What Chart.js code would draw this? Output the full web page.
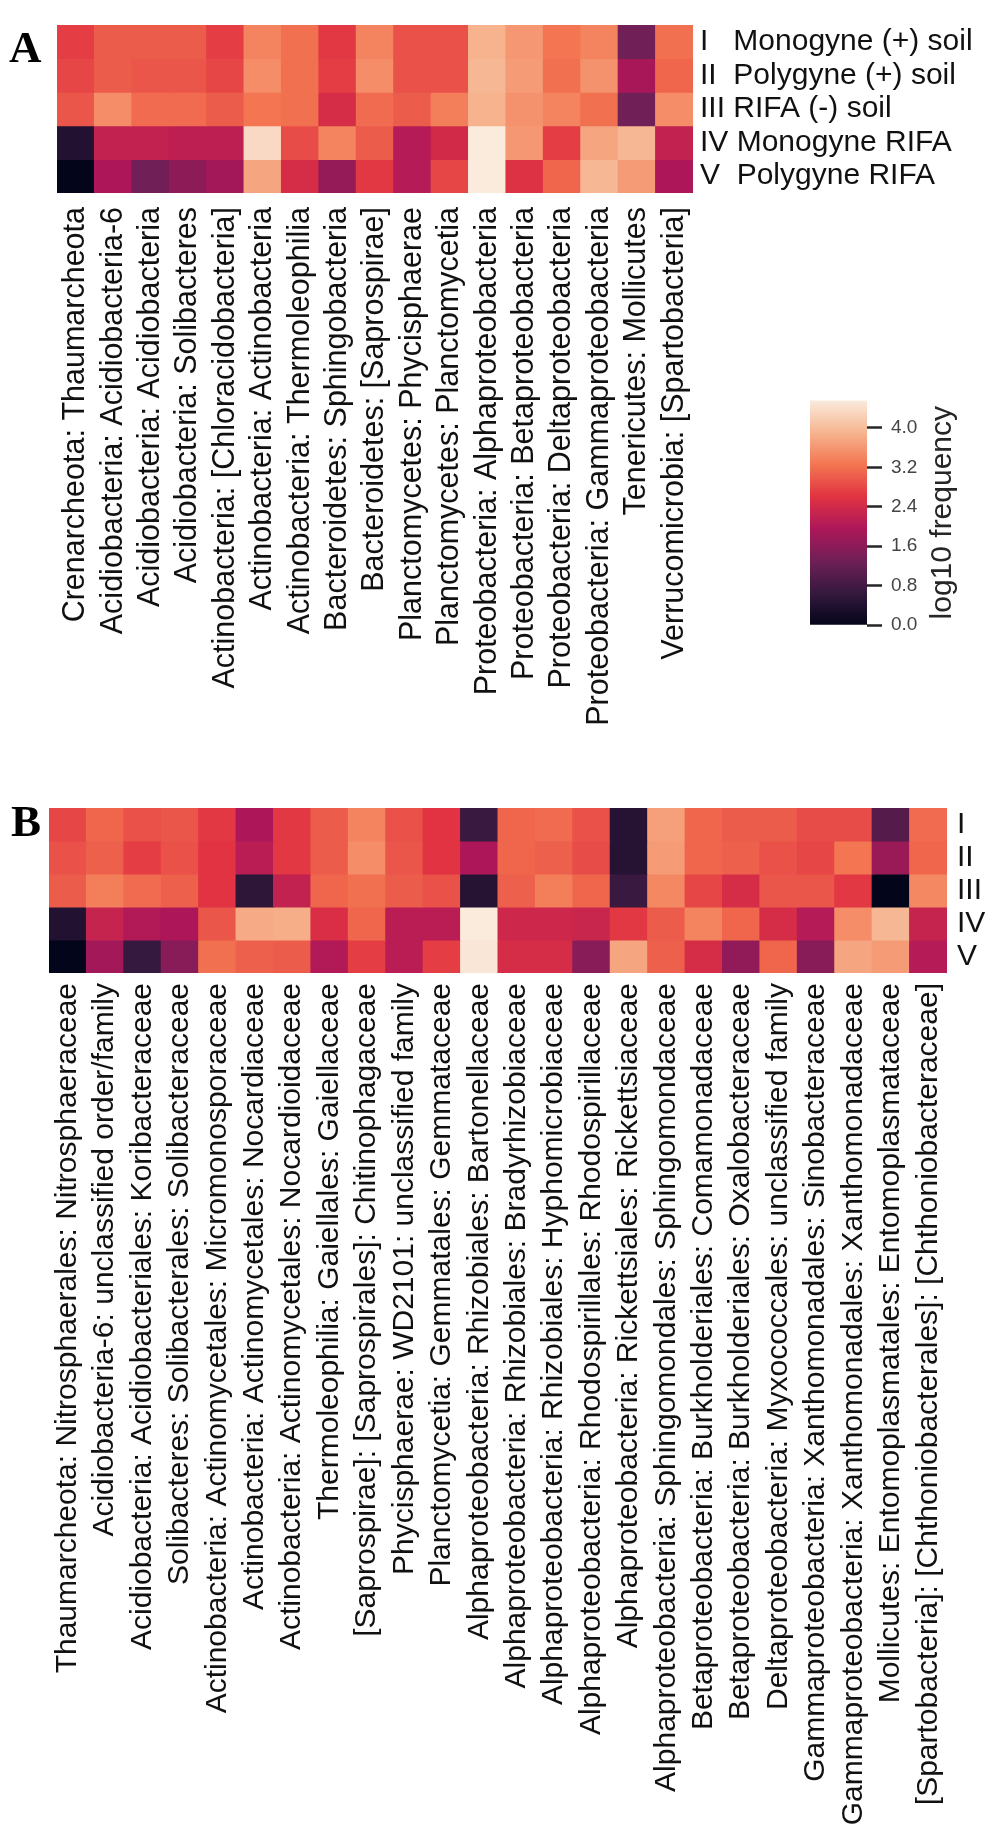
<!DOCTYPE html>
<html>
<head>
<meta charset="utf-8">
<script src="https://cdn.jsdelivr.net/npm/chart.js@4.4.0/dist/chart.umd.min.js"></script>
<style>
  body { margin: 0; background: #fff; }
  #wrap { position: relative; width: 985px; height: 1838px; background: #fff; }
  #wrap canvas { position: absolute; }
</style>
</head>
<body>
<div id="wrap">
  <canvas id="heatA" width="985" height="760" style="left:0;top:0"></canvas>
  <canvas id="colorBar" width="195" height="270" style="left:790px;top:380px"></canvas>
  <canvas id="heatB" width="985" height="1058" style="left:0;top:780px"></canvas>
</div>
<script>
// ---- panel A: class level ----
const groupsA = ['I   Monogyne (+) soil', 'II  Polygyne (+) soil', 'III RIFA (-) soil', 'IV Monogyne RIFA', 'V  Polygyne RIFA'];
const classesA = [
  'Crenarcheota: Thaumarcheota', 'Acidiobacteria: Acidiobacteria-6', 'Acidiobacteria: Acidiobacteria',
  'Acidiobacteria: Solibacteres', 'Actinobacteria: [Chloracidobacteria]', 'Actinobacteria: Actinobacteria',
  'Actinobacteria: Thermoleophilia', 'Bacteroidetes: Sphingobacteria', 'Bacteroidetes: [Saprospirae]',
  'Planctomycetes: Phycisphaerae', 'Planctomycetes: Planctomycetia', 'Proteobacteria: Alphaproteobacteria',
  'Proteobacteria: Betaproteobacteria', 'Proteobacteria: Deltaproteobacteria', 'Proteobacteria: Gammaproteobacteria',
  'Tenericutes: Mollicutes', 'Verrucomicrobia: [Spartobacteria]'
];
const freqA_I   = [2.7, 3.0, 3.0, 3.0, 2.7, 3.4, 3.2, 2.65, 3.4, 2.9, 2.9, 3.9, 3.6, 3.25, 3.4, 1.3, 3.2];
const freqA_II  = [2.8, 3.0, 2.95, 2.95, 2.8, 3.5, 3.2, 2.7, 3.5, 2.9, 2.9, 3.95, 3.65, 3.2, 3.55, 1.9, 3.1];
const freqA_III = [2.95, 3.5, 3.15, 3.15, 3.0, 3.25, 3.2, 2.45, 3.15, 3.0, 3.35, 3.9, 3.55, 3.4, 3.2, 1.3, 3.5];
const freqA_IV  = [0.4, 2.2, 2.2, 2.15, 2.15, 4.35, 2.85, 3.4, 3.0, 2.05, 2.4, 4.56, 3.6, 2.7, 3.75, 3.95, 2.2];
const freqA_V   = [0.0, 1.95, 1.3, 1.6, 1.85, 3.75, 2.45, 1.7, 2.65, 2.05, 2.8, 4.56, 2.55, 3.1, 3.95, 3.65, 1.95];

// ---- panel B: family level ----
const groupsB = ['I', 'II', 'III', 'IV', 'V'];
const familiesB = [
  'Thaumarcheota: Nitrosphaerales: Nitrosphaeraceae',
  'Acidiobacteria-6: unclassified order/family',
  'Acidiobacteria: Acidiobacteriales: Koribacteraceae',
  'Solibacteres: Solibacterales: Solibacteraceae',
  'Actinobacteria: Actinomycetales: Micromonosporaceae',
  'Actinobacteria: Actinomycetales: Nocardiaceae',
  'Actinobacteria: Actinomycetales: Nocardioidaceae',
  'Thermoleophilia: Gaiellales: Gaiellaceae',
  '[Saprospirae]: [Saprospirales]: Chitinophagaceae',
  'Phycisphaerae: WD2101: unclassified family',
  'Planctomycetia: Gemmatales: Gemmataceae',
  'Alphaproteobacteria: Rhizobiales: Bartonellaceae',
  'Alphaproteobacteria: Rhizobiales: Bradyrhizobiaceae',
  'Alphaproteobacteria: Rhizobiales: Hyphomicrobiaceae',
  'Alphaproteobacteria: Rhodospirillales: Rhodospirillaceae',
  'Alphaproteobacteria: Rickettsiales: Rickettsiaceae',
  'Alphaproteobacteria: Sphingomondales: Sphingomondaceae',
  'Betaproteobacteria: Burkholderiales: Comamonadaceae',
  'Betaproteobacteria: Burkholderiales: Oxalobacteraceae',
  'Deltaproteobacteria: Myxococcales: unclassified family',
  'Gammaproteobacteria: Xanthomonadales: Sinobacteraceae',
  'Gammaproteobacteria: Xanthomonadales: Xanthomonadaceae',
  'Mollicutes: Entomoplasmatales: Entomoplasmataceae',
  '[Spartobacteria]: [Chthoniobacterales]: [Chthoniobacteraceae]'
];
const freqB_I   = [2.8, 3.1, 2.9, 2.95, 2.65, 1.95, 2.65, 3.0, 3.4, 2.9, 2.6, 0.7, 3.1, 3.15, 2.9, 0.45, 3.7, 3.1, 3.0, 3.0, 2.85, 2.85, 1.0, 3.15];
const freqB_II  = [2.9, 3.05, 2.7, 2.9, 2.6, 2.1, 2.65, 3.0, 3.5, 2.95, 2.6, 1.95, 3.1, 3.05, 2.85, 0.45, 3.65, 3.1, 3.05, 2.9, 2.8, 3.25, 1.75, 3.1];
const freqB_III = [3.0, 3.35, 3.15, 3.05, 2.6, 0.55, 2.2, 3.1, 3.2, 3.0, 2.9, 0.45, 3.05, 3.35, 3.1, 0.7, 3.45, 2.8, 2.45, 2.95, 2.95, 2.65, 0.0, 3.45];
const freqB_IV  = [0.4, 2.25, 2.0, 1.95, 2.95, 3.8, 3.85, 2.5, 3.1, 2.1, 2.1, 4.56, 2.35, 2.35, 2.3, 2.65, 3.0, 3.4, 3.1, 2.45, 2.05, 3.5, 3.95, 2.25];
const freqB_V   = [0.0, 1.85, 0.65, 1.55, 3.2, 3.05, 3.0, 2.0, 2.7, 2.1, 2.7, 4.5, 2.45, 2.45, 1.55, 3.75, 3.05, 2.45, 1.65, 3.1, 1.55, 3.75, 3.65, 2.05];

// ---- colour scale ----
const vmin = 0;
const vmax = 4.56;
const colorTicks = [0.0, 0.8, 1.6, 2.4, 3.2, 4.0];
const rocketStops = ['#03051a', '#35193e', '#701f57', '#ad1759', '#e13342', '#f37651', '#f6b48f', '#faebdd'];

function hexRgb(h) {
  return [parseInt(h.slice(1, 3), 16), parseInt(h.slice(3, 5), 16), parseInt(h.slice(5, 7), 16)];
}
function rocket(v) {
  let t = (v - vmin) / (vmax - vmin);
  t = Math.max(0, Math.min(1, t));
  const p = t * (rocketStops.length - 1);
  const i = Math.min(Math.floor(p), rocketStops.length - 2);
  const f = p - i;
  const a = hexRgb(rocketStops[i]), b = hexRgb(rocketStops[i + 1]);
  const c = a.map((x, k) => Math.round(x + (b[k] - x) * f));
  return 'rgb(' + c.join(',') + ')';
}

Chart.defaults.font.family = "'Liberation Sans', Arial, sans-serif";
Chart.defaults.animation = false;

const panelLetter = {
  id: 'panelLetter',
  afterDraw(chart, args, o) {
    const c = chart.ctx;
    c.save();
    c.font = 'bold 45px "Liberation Serif", "Times New Roman", serif';
    c.fillStyle = '#000';
    c.textBaseline = 'alphabetic';
    c.fillText(o.text, o.x, o.y);
    c.restore();
  }
};

function heatmap(id, cats, groups, rows, lay) {
  const datasets = rows.map((vals, r) => ({
    data: vals.map(() => [r, r + 1]),
    backgroundColor: ctx => rocket(vals[ctx.dataIndex]),
    borderWidth: 0,
    inflateAmount: 0.5,
    barPercentage: 1,
    categoryPercentage: 1,
    grouped: false
  }));
  return new Chart(document.getElementById(id), {
    type: 'bar',
    data: { labels: cats, datasets: datasets },
    options: {
      responsive: false,
      layout: { padding: { left: lay.left, top: lay.top, right: 0, bottom: 0 } },
      plugins: { legend: { display: false }, tooltip: { enabled: false }, panelLetter: lay.letter },
      scales: {
        x: {
          type: 'category',
          offset: true,
          grid: { display: false, drawTicks: false },
          border: { display: false },
          ticks: {
            autoSkip: false, minRotation: 90, maxRotation: 90, padding: lay.xPad,
            color: '#111', font: { size: lay.xFont }
          },
          afterFit: s => { s.height = lay.xHeight; }
        },
        y: {
          type: 'linear',
          position: 'right',
          reverse: true,
          min: 0,
          max: groups.length,
          grid: { display: false, drawTicks: false },
          border: { display: false },
          afterBuildTicks: s => { s.ticks = groups.map((g, i) => ({ value: i + 0.5 })); },
          ticks: {
            callback: (v, i) => groups[i],
            padding: lay.yPad, color: '#111', font: { size: 30 }
          },
          afterFit: s => { s.width = lay.yWidth; }
        }
      }
    },
    plugins: [panelLetter]
  });
}

heatmap('heatA', classesA, groupsA, [freqA_I, freqA_II, freqA_III, freqA_IV, freqA_V], {
  left: 57, top: 6, xHeight: 760 - 193, yWidth: 985 - 693, xPad: 14, yPad: 7, xFont: 30.5,
  letter: { text: 'A', x: 9, y: 62 }
});

heatmap('heatB', familiesB, groupsB, [freqB_I, freqB_II, freqB_III, freqB_IV, freqB_V], {
  left: 49, top: 6, xHeight: 1058 - 193, yWidth: 985 - 947, xPad: 10, yPad: 10, xFont: 30,
  letter: { text: 'B', x: 11, y: 56 }
});

// ---- colour bar ----
const barTitle = {
  id: 'barTitle',
  afterDraw(chart, args, o) {
    const a = chart.chartArea, c = chart.ctx;
    c.save();
    c.translate(o.x, (a.top + a.bottom) / 2);
    c.rotate(-Math.PI / 2);
    c.font = "30px 'Liberation Sans', Arial, sans-serif";
    c.fillStyle = '#262626';
    c.textAlign = 'center';
    c.textBaseline = 'middle';
    c.fillText(o.text, 0, 0);
    c.restore();
  }
};

new Chart(document.getElementById('colorBar'), {
  type: 'bar',
  data: {
    labels: [''],
    datasets: [{
      data: [[vmin, vmax]],
      backgroundColor: ctx => {
        const a = ctx.chart.chartArea;
        if (!a) return rocketStops[0];
        const g = ctx.chart.ctx.createLinearGradient(0, a.bottom, 0, a.top);
        rocketStops.forEach((col, i) => g.addColorStop(i / (rocketStops.length - 1), col));
        return g;
      },
      borderWidth: 0,
      barPercentage: 1,
      categoryPercentage: 1
    }]
  },
  options: {
    responsive: false,
    layout: { padding: { left: 20, top: 17, right: 0, bottom: 25 } },
    plugins: { legend: { display: false }, tooltip: { enabled: false }, barTitle: { text: 'log10 frequency', x: 153 } },
    scales: {
      x: { display: false },
      y: {
        position: 'right',
        min: vmin,
        max: vmax,
        afterBuildTicks: s => { s.ticks = colorTicks.map(v => ({ value: v })); },
        grid: { drawOnChartArea: false, drawTicks: true, tickLength: 15, tickWidth: 2.5, tickColor: '#262626' },
        border: { display: false },
        ticks: { callback: v => v.toFixed(1), padding: 9, color: '#444', font: { size: 19 } },
        afterFit: s => { s.width = 118; }
      }
    }
  },
  plugins: [barTitle]
});
</script>
</body>
</html>
